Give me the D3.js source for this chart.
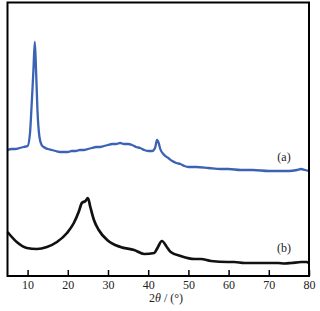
<!DOCTYPE html>
<html>
<head>
<meta charset="utf-8">
<script src="https://cdn.jsdelivr.net/npm/d3@7"></script>
<style>
	body{margin:0;background:#fff;}
</style>
</head>
<body>
<script>
//diffraction angles (2 theta, degrees) and intensities (a.u.)
var angleA = [5,6,7,8,9,10,10.6,10.9,11.2,11.45,11.8,12.1,12.45,12.95,13.5,14,15,16,17,18,19,20,21,22,23,24,25,26,27,28,29,30,31,32,33,34,35,36,37,38,39,40,41,41.7,42.2,42.6,43,44,45,46,47,48,49,50,52,55,58,60,63,66,70,73,75,77,78,79,80];
var intensityA = [126,127,127,128,129,130,143,163,186,206,234,206,166,139,131,129,127,126,125,124,124,124,125,125,126,126,127,128,129,129,130,131,132,132,133,132,132,131,129,128,126,125,125,128,136,133,127,121,118,115,113,112,110,109,109,108,107,107,106,106,105,105,105,106,107,106,105];

var angleB = [5,7.3,9.8,12.3,14.8,17.3,19.8,21.5,22.7,23.5,24.4,25,25.6,26.5,27.7,29.8,33.1,36.5,39,41.5,42.3,43.4,44.8,45.6,48.1,51.5,53.1,55.6,59.8,61.4,63.9,68.1,69.8,72.3,73.9,75.6,78.1,79.4,80];
var intensityB = [44,34,28,27,29,34,43,53,64,73,75,78,69,56,46,36,29,26,22,23,28,35,28,24,20,17,17,15,14,14,13,13,13,13,12.5,13,14,14,13];

//curve labels and x ticks
var labels = ["(a)","(b)"];
var ticks = [10,20,30,40,50,60,70,80];

var serif = "'Liberation Serif','DejaVu Serif',serif";
var w = 320, h = 311;

var svg = d3.select("body")
	.append("svg")
	.attr("width", w)
	.attr("height", h)
	.attr("class","svg");

//plot box (window.top is taken, so name them box*)
var boxLeft = 7.5, boxRight = 309, boxTop = 2.5, boxBottom = 276;

var xScale = d3.scaleLinear()
	.domain([5,80])
	.range([boxLeft,boxRight]);

var yScale = d3.scaleLinear()
	.domain([0,274])
	.range([boxBottom,boxBottom-274]);

//curves
var line = d3.line()
	.x(function(d){ return xScale(d[0]); })
	.y(function(d){ return yScale(d[1]); })
	.curve(d3.curveMonotoneX);

var dataA = d3.zip(angleA, intensityA);
var dataB = d3.zip(angleB, intensityB);

svg.append("path")
	.datum(dataA)
	.attr("d", line)
	.style("fill","none")
	.style("stroke","#3b62b3")
	.style("stroke-width",2.3)
	.attr("class","curveA");

svg.append("path")
	.datum(dataB)
	.attr("d", line)
	.style("fill","none")
	.style("stroke","#111")
	.style("stroke-width",2.7)
	.attr("class","curveB");

//bottom axis, ticks point inward
var xAxis = d3.axisBottom(xScale)
	.tickValues(ticks)
	.tickSize(-6)
	.tickPadding(5)
	.tickFormat(d3.format("d"));

var axis = svg.append("g")
	.attr("transform","translate(0,"+boxBottom+")")
	.attr("font-family",serif)
	.attr("font-size",12)
	.attr("class","axis")
	.call(xAxis);

axis.select(".domain").remove();
axis.selectAll("line").style("stroke","#000").style("stroke-width",1.5);
axis.selectAll("text")
	.style("font-family",serif)
	.style("font-size","12px")
	.style("fill","#222")
	.attr("dy","0.66em");

//frame
svg.append("rect")
	.attr("x",boxLeft)
	.attr("y",boxTop)
	.attr("width",boxRight-boxLeft)
	.attr("height",boxBottom-boxTop)
	.style("fill","none")
	.style("stroke","#000")
	.style("stroke-width",2)
	.attr("class","frame");

//curve labels
svg.selectAll(".labels")
	.data(labels)
	.enter()
	.append("text")
	.attr("x",284)
	.attr("y",function(d,i){ return i === 0 ? 161 : 252; })
	.attr("text-anchor","middle")
	.style("font-family",serif)
	.style("font-size","12px")
	.style("fill","#222")
	.text(function(d){ return d; })
	.attr("class","labels");

//axis title
var title = svg.append("text")
	.attr("x",166)
	.attr("y",302)
	.attr("text-anchor","middle")
	.style("font-family",serif)
	.style("font-size","12px")
	.style("fill","#222")
	.attr("class","title");
title.append("tspan").text("2");
title.append("tspan").style("font-style","italic").text("θ");
title.append("tspan").text(" / (°)");
</script>
</body>
</html>
